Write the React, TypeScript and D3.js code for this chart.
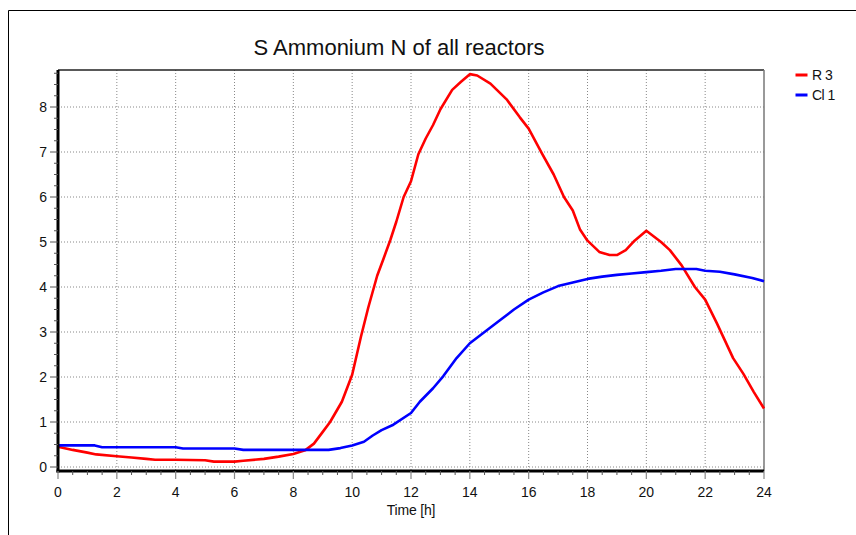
import React from "react";
import * as d3 from "d3";

const r3Time = [0,0.5,1,1.3,2,2.5,3,3.3,4,5,5.3,6,6.3,7,7.5,8,8.4,8.7,9,9.25,9.65,10,10.3,10.55,10.85,11.05,11.3,11.5,11.75,12,12.25,12.5,12.75,13,13.4,13.7,14,14.25,14.7,15.25,15.7,16,16.45,16.85,17.2,17.5,17.75,18,18.4,18.75,19,19.3,19.6,20,20.5,20.8,21.2,21.65,22,22.4,22.95,23.3,23.65,24];
const r3Values = [0.45,0.38,0.32,0.28,0.24,0.21,0.18,0.16,0.16,0.15,0.12,0.12,0.14,0.18,0.23,0.29,0.37,0.52,0.78,1.0,1.45,2.05,2.9,3.55,4.25,4.6,5.05,5.45,6.0,6.35,6.95,7.3,7.6,7.95,8.38,8.56,8.73,8.7,8.52,8.17,7.77,7.52,6.97,6.5,6.0,5.7,5.27,5.03,4.78,4.71,4.71,4.82,5.03,5.25,5.0,4.82,4.48,4.0,3.72,3.19,2.42,2.07,1.67,1.3];

const cl1Time = [0,1.25,1.5,4,4.25,6,6.3,9.2,9.6,10,10.4,10.7,11,11.4,12,12.3,12.75,13.1,13.55,14,14.5,15,15.5,16,16.5,17,17.5,18,18.5,19,19.5,20,20.5,21,21.7,22,22.5,23,23.6,24];
const cl1Values = [0.48,0.48,0.44,0.44,0.41,0.41,0.38,0.38,0.42,0.48,0.56,0.7,0.82,0.94,1.2,1.45,1.75,2.02,2.42,2.75,3.0,3.25,3.5,3.72,3.88,4.02,4.1,4.18,4.23,4.27,4.3,4.33,4.36,4.4,4.4,4.36,4.34,4.28,4.2,4.13];

const xTicks = [0,2,4,6,8,10,12,14,16,18,20,22,24];
const yTicks = [0,1,2,3,4,5,6,7,8];
const seriesNames = ["R 3", "Cl 1"];
const seriesColors = ["#ff0000", "#0000ff"];
const title = "S Ammonium N of all reactors";
const xLabel = "Time [h]";

export default function App() {
  const left = 58, right = 764, top = 70, bottom = 471;
  const x = d3.scaleLinear().domain([0, 24]).range([left, right]);
  const y = d3.scaleLinear().domain([0, 8]).range([467, 107]);
  const line = d3.line<[number, number]>().x(d => x(d[0])).y(d => y(d[1]));
  const r3 = r3Time.map((t, i) => [t, r3Values[i]] as [number, number]);
  const cl1 = cl1Time.map((t, i) => [t, cl1Values[i]] as [number, number]);
  const xMinor = d3.range(0, 24.01, 0.5).filter(v => Math.abs(v % 2) > 1e-6);
  const yMinor = d3.range(0, 8.81, 0.25).filter(v => Math.abs(v % 1) > 1e-6);
  const font = "Arial, 'Liberation Sans', sans-serif";
  return (
    <svg width={856} height={535} style={{ position: "absolute", left: 0, top: 0, background: "#fff" }} fontFamily={font}>
      <rect x={0} y={0} width={856} height={535} fill="#fff" />
      <line x1={8.5} y1={10.5} x2={856} y2={10.5} stroke="#000" strokeWidth={1} />
      <line x1={8.5} y1={10.5} x2={8.5} y2={535} stroke="#000" strokeWidth={1} />
      <text x={399} y={55} textAnchor="middle" fontSize={22} fill="#111">{title}</text>
      {xTicks.filter(t => t > 0 && t < 24).map(t => (
        <line key={"gx" + t} x1={x(t)} x2={x(t)} y1={top} y2={bottom} stroke="#888" strokeWidth={1} strokeDasharray="1,2" />
      ))}
      {yTicks.map(v => (
        <line key={"gy" + v} x1={left} x2={right} y1={y(v)} y2={y(v)} stroke="#888" strokeWidth={1} strokeDasharray="1,2" />
      ))}
      <line x1={left} x2={right} y1={top} y2={top} stroke="#222" strokeWidth={1.5} />
      <line x1={right} x2={right} y1={top} y2={bottom} stroke="#777" strokeWidth={1.5} />
      <path d={line(r3) || ""} fill="none" stroke={seriesColors[0]} strokeWidth={2.6} strokeLinejoin="round" />
      <path d={line(cl1) || ""} fill="none" stroke={seriesColors[1]} strokeWidth={2.6} strokeLinejoin="round" />
      <line x1={left} x2={left} y1={top} y2={bottom + 1.5} stroke="#000" strokeWidth={3} />
      <line x1={left - 1.5} x2={right} y1={bottom} y2={bottom} stroke="#000" strokeWidth={3} />
      {xTicks.map(t => (
        <g key={"xt" + t}>
          <line x1={x(t)} x2={x(t)} y1={bottom} y2={bottom + 8} stroke="#888" strokeWidth={1.2} />
          <text x={x(t)} y={496.5} textAnchor="middle" fontSize={14} fill="#111">{t}</text>
        </g>
      ))}
      {xMinor.map(t => (
        <line key={"xm" + t} x1={x(t)} x2={x(t)} y1={bottom} y2={bottom + 4} stroke="#555" strokeWidth={1} />
      ))}
      {yTicks.map(v => (
        <g key={"yt" + v}>
          <line x1={left - 8} x2={left} y1={y(v)} y2={y(v)} stroke="#555" strokeWidth={1} />
          <text x={47} y={y(v)} dy="0.35em" textAnchor="end" fontSize={14} fill="#111">{v}</text>
        </g>
      ))}
      {yMinor.map(v => (
        <line key={"ym" + v} x1={left - 4} x2={left} y1={y(v)} y2={y(v)} stroke="#555" strokeWidth={1} />
      ))}
      <text x={411} y={515} textAnchor="middle" fontSize={14} fill="#111" letterSpacing={-0.2}>{xLabel}</text>
      {seriesNames.map((n, i) => (
        <g key={n}>
          <line x1={795.5} x2={807.5} y1={75 + i * 20} y2={75 + i * 20} stroke={seriesColors[i]} strokeWidth={3} />
          <text x={812} y={75 + i * 20} dy="0.35em" fontSize={14} fill="#111" letterSpacing={-0.5}>{n}</text>
        </g>
      ))}
    </svg>
  );
}
